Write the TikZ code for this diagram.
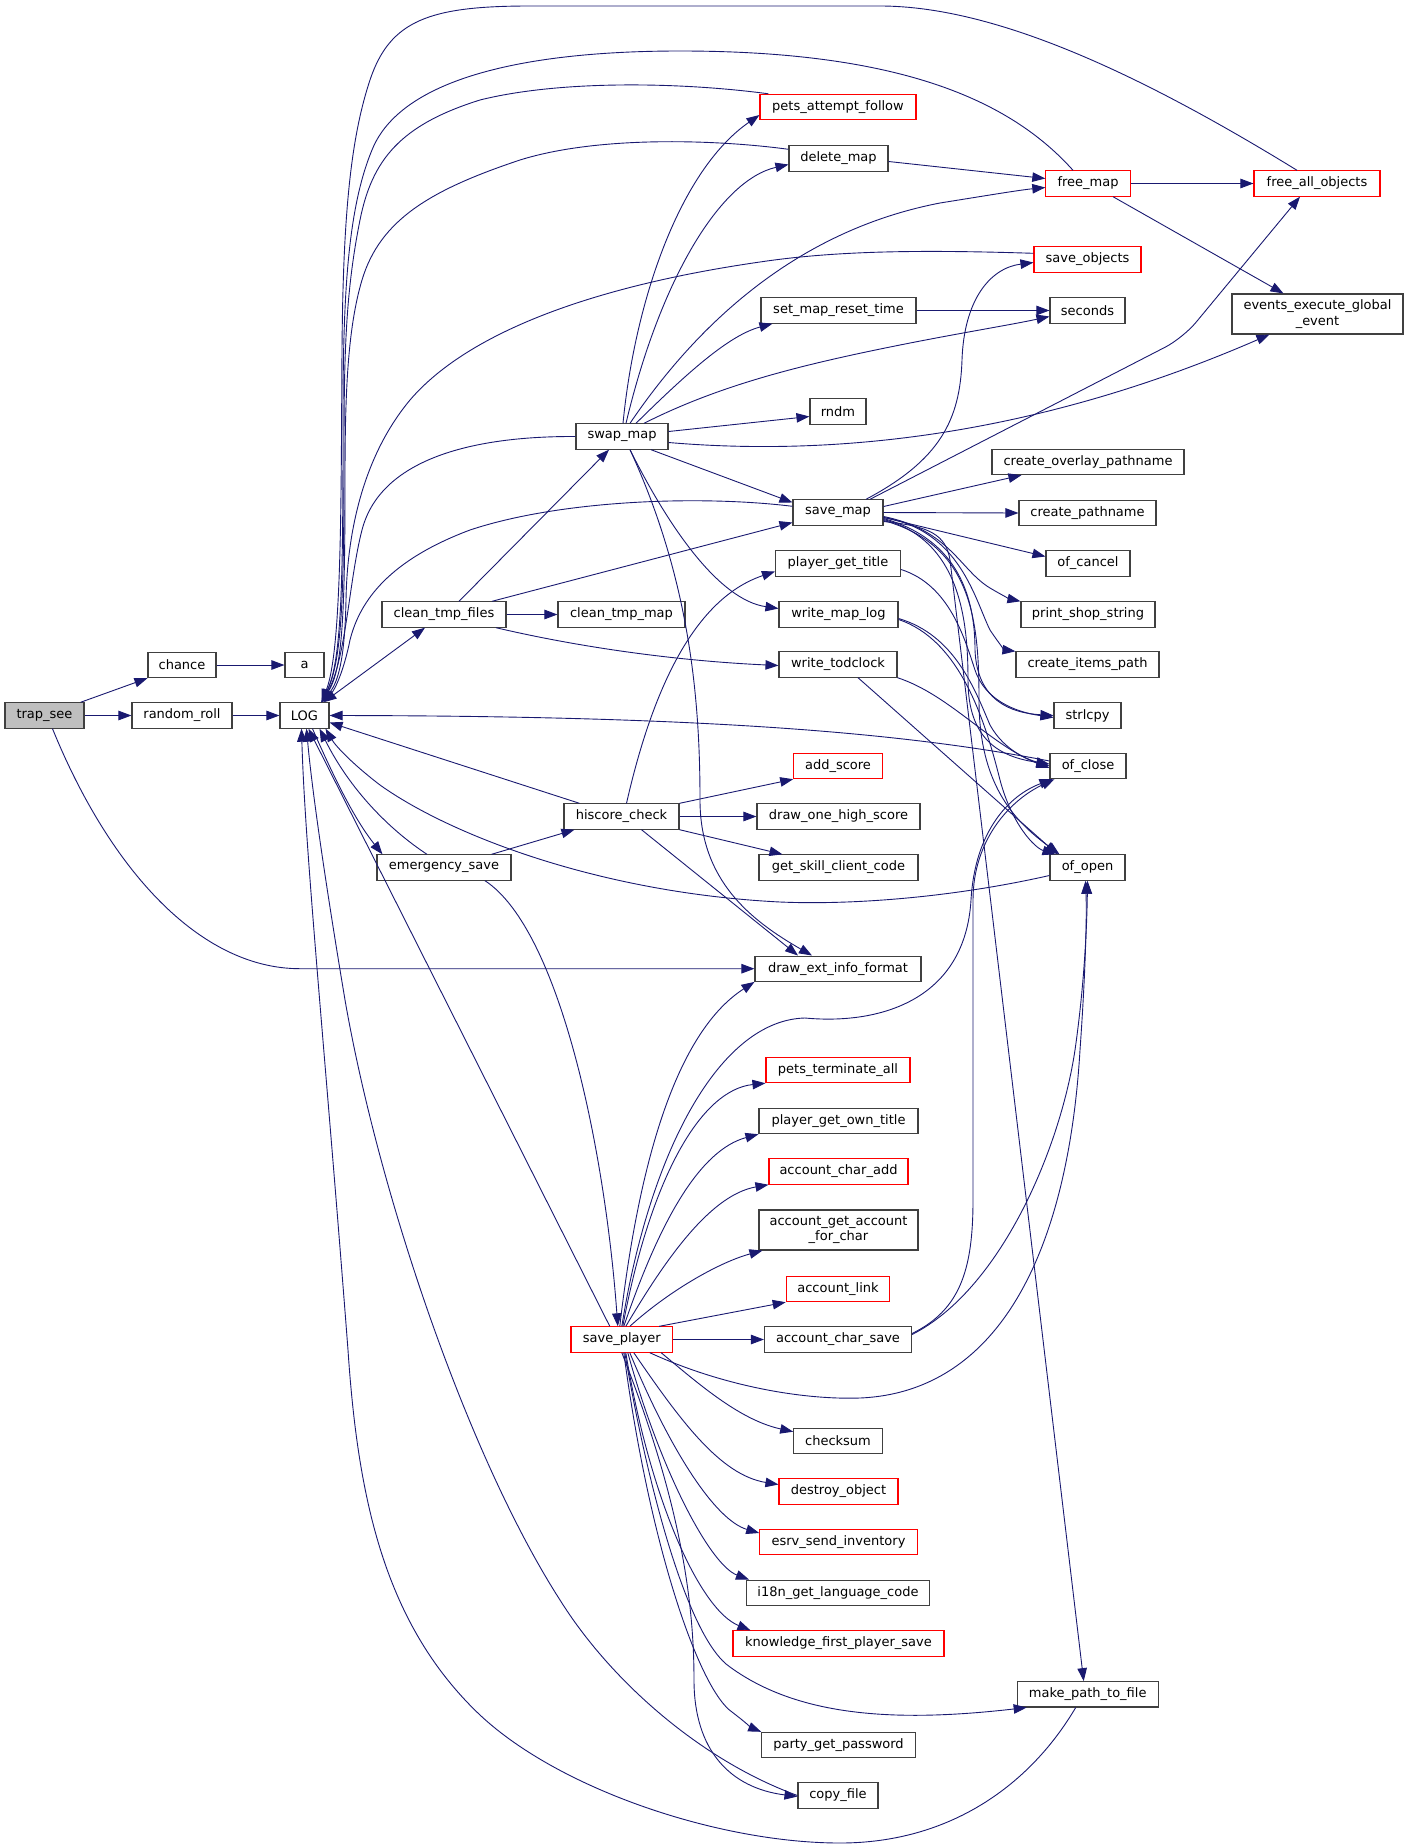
\documentclass[tikz,border=0pt]{standalone}
\usepackage{fontspec}
\setmainfont{DejaVu Sans}
\usetikzlibrary{arrows.meta}
\definecolor{edgec}{RGB}{25,25,112}
\definecolor{boxc}{RGB}{64,64,64}
\definecolor{redc}{RGB}{255,0,0}
\definecolor{grayfill}{RGB}{191,191,191}
\begin{document}
\begin{tikzpicture}[x=1pt,y=-1pt,
  fn/.style={draw=boxc, line width=1.1pt, fill=white, inner sep=0pt, minimum height=25.3pt, align=center, font=\fontsize{13}{15.5}\selectfont, text=black},
  fr/.style={fn, draw=redc},
  cg/.style={draw=edgec, line width=0.9pt, -{Triangle[length=13pt,width=9.5pt]}},
  cgb/.style={draw=edgec, line width=0.9pt, {Triangle[length=13pt,width=9.5pt]}-{Triangle[length=13pt,width=9.5pt]}},
  cgn/.style={draw=edgec, line width=0.9pt}
]
\useasboundingbox (0,0) rectangle (1408,1847);
% nodes
\node[fn, minimum width=79pt, fill=grayfill] (trap) at (44.5,715.5) {trap\_see};
\node[fn, minimum width=68pt] (chance) at (182,665) {chance};
\node[fn, minimum width=39pt] (a) at (304.5,665) {a};
\node[fn, minimum width=100pt] (random) at (182,715.5) {random\_roll};
\node[fn, minimum width=49pt] (LOG) at (304.5,715.5) {LOG};
\node[fn, minimum width=124pt] (ctf) at (444,614.5) {clean\_tmp\_files};
\node[fn, minimum width=134pt] (esave) at (444,867.5) {emergency\_save};
\node[fn, minimum width=92pt] (swap) at (622,436.5) {swap\_map};
\node[fn, minimum width=127pt] (ctm) at (621.5,614.5) {clean\_tmp\_map};
\node[fn, minimum width=115pt] (hsc) at (621.5,816.5) {hiscore\_check};
\node[fr, minimum width=101.6pt] (splayer) at (621.8,1339.5) {save\_player};
\node[fr, minimum width=156pt] (paf) at (838,107) {pets\_attempt\_follow};
\node[fn, minimum width=99pt] (dmap) at (838.5,158.5) {delete\_map};
\node[fn, minimum width=155pt] (smrt) at (838.5,310.5) {set\_map\_reset\_time};
\node[fn, minimum width=56pt] (rndm) at (838,411.5) {rndm};
\node[fn, minimum width=90pt] (smap) at (838,512.5) {save\_map};
\node[fn, minimum width=125pt] (pgt) at (838,563.5) {player\_get\_title};
\node[fn, minimum width=119pt] (wml) at (838.5,614.5) {write\_map\_log};
\node[fn, minimum width=118pt] (wtc) at (838,664.5) {write\_todclock};
\node[fr, minimum width=88.5pt] (adds) at (838,766) {add\_score};
\node[fn, minimum width=163pt] (dohs) at (838.5,816.5) {draw\_one\_high\_score};
\node[fn, minimum width=159pt] (gscc) at (838.5,867.5) {get\_skill\_client\_code};
\node[fn, minimum width=166pt] (deif) at (838,968.7) {draw\_ext\_info\_format};
\node[fr, minimum width=144pt] (pta) at (838,1070) {pets\_terminate\_all};
\node[fn, minimum width=159pt] (pgot) at (838.5,1121) {player\_get\_own\_title};
\node[fr, minimum width=139pt] (aca) at (838.5,1171.5) {account\_char\_add};
\node[fn, minimum width=159pt, minimum height=40pt] (agafc) at (838.5,1230) {account\_get\_account\\\_for\_char};
\node[fr, minimum width=103.5pt] (alink) at (838,1289) {account\_link};
\node[fn, minimum width=147pt] (acs) at (838,1339.5) {account\_char\_save};
\node[fn, minimum width=88.5pt] (chk) at (838,1440.7) {checksum};
\node[fr, minimum width=119pt] (dobj) at (838.5,1491.5) {destroy\_object};
\node[fr, minimum width=157.5pt] (esi) at (838.5,1542) {esrv\_send\_inventory};
\node[fn, minimum width=183pt] (i18n) at (838,1592.7) {i18n\_get\_language\_code};
\node[fr, minimum width=211pt] (kfps) at (838.5,1643.5) {knowledge\_first\_player\_save};
\node[fn, minimum width=153.5pt] (pgp) at (838.5,1745) {party\_get\_password};
\node[fn, minimum width=80pt] (cfile) at (838,1795.5) {copy\_file};
\node[fr, minimum width=84.3pt] (fmap) at (1088,183.5) {free\_map};
\node[fr, minimum width=107pt] (sobj) at (1087.5,259.5) {save\_objects};
\node[fn, minimum width=75pt] (secs) at (1087.5,310.5) {seconds};
\node[fn, minimum width=192pt] (cop) at (1088,462) {create\_overlay\_pathname};
\node[fn, minimum width=137pt] (cpn) at (1087.5,513) {create\_pathname};
\node[fn, minimum width=84pt] (ocan) at (1088,563.5) {of\_cancel};
\node[fn, minimum width=134pt] (pss) at (1088,614.5) {print\_shop\_string};
\node[fn, minimum width=143pt] (cip) at (1087.5,664.5) {create\_items\_path};
\node[fn, minimum width=67pt] (strl) at (1087.5,715.5) {strlcpy};
\node[fn, minimum width=76pt] (oclose) at (1088,766) {of\_close};
\node[fn, minimum width=75pt] (oopen) at (1087.5,867.5) {of\_open};
\node[fn, minimum width=141pt] (mptf) at (1087.7,1694.3) {make\_path\_to\_file};
\node[fr, minimum width=126pt] (fao) at (1317,183.5) {free\_all\_objects};
\node[fn, minimum width=171pt, minimum height=40pt] (eeg) at (1317.5,314) {events\_execute\_global\\\_event};

% trap_see
\draw[cg] ([xshift=-4pt]trap.north east) -- (chance.south west);
\draw[cg] (trap.east) -- (random.west);
\draw[cg] ([xshift=8pt]trap.south) .. controls (110,870) and (200,968.7) .. (300,968.7) -- (deif.west);
\draw[cg] (chance.east) -- (a.west);
\draw[cg] (random.east) -- (LOG.west);
% LOG relations
\draw[cgb] ([xshift=-6pt]LOG.north east) -- ([xshift=-19pt]ctf.south);
\draw[cg] ([xshift=8pt]LOG.south) .. controls (335,780) and (355,820) .. ([xshift=6pt]esave.north west);
\draw[cg] ([xshift=-17pt]esave.north) .. controls (390,830) and (350,790) .. ([xshift=-10pt]LOG.south east);
% top bundle into LOG
\draw[cg] ([xshift=-20pt]fao.north) .. controls (1150,80) and (1000,6) .. (880,6) -- (530,6) .. controls (430,6) and (390,20) .. (370,80) .. controls (350,140) and (343,220) .. (342,350) .. controls (341,500) and (342,650) .. ([xshift=-8pt]LOG.north east);
\draw[cg] ([xshift=-15pt]fmap.north) .. controls (1010,100) and (900,51) .. (680,51) .. controls (520,51) and (400,80) .. (372,150) .. controls (347,210) and (343,300) .. (343,420) .. controls (343,580) and (342,660) .. ([xshift=-8pt]LOG.north east);
\draw[cg] ([xshift=9pt]paf.north west) .. controls (680,82) and (560,80) .. (480,100) .. controls (400,125) and (372,160) .. (360,220) .. controls (346,290) and (344,350) .. (344,450) .. controls (344,600) and (342,660) .. ([xshift=-8pt]LOG.north east);
\draw[cg] ([yshift=-4pt]dmap.north west) .. controls (720,140) and (600,135) .. (520,160) .. controls (430,190) and (380,220) .. (362,280) .. controls (347,330) and (345,400) .. (345,480) .. controls (345,620) and (342,670) .. ([xshift=-8pt]LOG.north east);
\draw[cg] ([yshift=-7pt]sobj.north west) .. controls (930,250) and (840,250) .. (760,262) .. controls (600,285) and (470,330) .. (410,400) .. controls (360,460) and (347,540) .. (346,600) .. controls (345,650) and (340,680) .. ([xshift=-8pt]LOG.north east);
\draw[cg] (swap.west) .. controls (470,436) and (380,460) .. (362,530) .. controls (349,580) and (346,660) .. ([xshift=-8pt]LOG.north east);
\draw[cg] ([yshift=-7pt]smap.north west) .. controls (700,495) and (560,500) .. (470,530) .. controls (390,560) and (360,600) .. (350,640) .. controls (344,670) and (335,690) .. ([xshift=-8pt]LOG.north east);
% right side into LOG
\draw[cg] ([yshift=5pt]oclose.west) .. controls (900,732) and (700,716) .. (LOG.east);
\draw[cg] ([xshift=16pt]hsc.north west) -- ([yshift=-7pt]LOG.east);
\draw[cg] ([yshift=-8pt]oopen.west) .. controls (950,898) and (850,905) .. (780,902) .. controls (600,893) and (450,835) .. (380,785) .. controls (350,762) and (335,745) .. ([xshift=-4pt]LOG.south east);
\draw[cg] ([xshift=-12pt]splayer.north) -- ([xshift=4pt]LOG.south);
\draw[cg] (cfile.west) .. controls (700,1760) and (610,1680) .. (560,1600) .. controls (470,1460) and (380,1200) .. (345,1000) .. controls (325,880) and (312,790) .. ([xshift=2pt]LOG.south);
\draw[cg] ([xshift=-12pt]mptf.south) .. controls (1030,1785) and (950,1843) .. (840,1843) .. controls (720,1843) and (560,1790) .. (480,1715) .. controls (385,1625) and (358,1500) .. (348,1350) .. controls (325,1050) and (305,850) .. ([xshift=-3pt]LOG.south);
% swap_map
\draw[cg] ([xshift=1pt]swap.north) .. controls (635,300) and (680,170) .. ([yshift=-8pt]paf.west);
\draw[cg] ([xshift=4pt]swap.north) .. controls (660,280) and (720,180) .. ([yshift=-6pt]dmap.west);
\draw[cg] ([xshift=8pt]swap.north) .. controls (700,320) and (800,230) .. (940,203) .. controls (990,195) and (1020,190) .. ([yshift=-4pt]fmap.west);
\draw[cg] ([xshift=14pt]swap.north) .. controls (690,370) and (730,335) .. ([xshift=12pt]smrt.south west);
\draw[cg] ([xshift=22pt]swap.north) .. controls (720,385) and (800,365) .. (900,345) .. controls (960,333) and (1010,325) .. ([yshift=-6pt]secs.west);
\draw[cg] ([yshift=5pt]swap.east) -- ([yshift=-5pt]rndm.west);
\draw[cg] ([yshift=-6pt]swap.east) .. controls (850,458) and (1050,430) .. ([xshift=38pt]eeg.south west);
\draw[cg] ([xshift=29pt]swap.south) -- ([yshift=10pt]smap.west);
\draw[cg] ([xshift=8pt]swap.south) .. controls (670,530) and (720,600) .. ([yshift=6pt]wml.west);
\draw[cg] ([xshift=8pt]swap.south) .. controls (690,580) and (700,700) .. (700,800) .. controls (700,880) and (750,920) .. ([xshift=-26pt]deif.north);
% delete/free map
\draw[cg] ([yshift=-3pt]dmap.east) -- ([yshift=5pt]fmap.west);
\draw[cg] (fmap.east) -- (fao.west);
\draw[cg] ([xshift=25pt]fmap.south) -- ([xshift=-34pt]eeg.north);
\draw[cg] (smrt.east) -- (secs.west);
% save_map
\draw[cg] ([xshift=28pt]smap.north) .. controls (940,460) and (960,420) .. (962,360) .. controls (964,300) and (990,268) .. ([yshift=-3pt]sobj.west);
\draw[cg, rounded corners=20pt] ([xshift=32pt]smap.north) -- (1183,338) -- ([xshift=-17pt]fao.south);
\draw[cg] ([yshift=6pt]smap.east) -- ([xshift=30pt]cop.south west);
\draw[cg] (smap.east) -- (cpn.west);
\draw[cg] ([yshift=-5pt]smap.east) -- ([yshift=7pt]ocan.west);
\draw[cg] ([yshift=-4pt]smap.east) .. controls (950,530) and (960,570) .. (990,588) .. controls (1000,594) and (1010,599) .. (pss.north west);
\draw[cg] ([yshift=-5pt]smap.east) .. controls (960,530) and (975,600) .. (990,630) .. controls (1000,645) and (1005,650) .. (cip.north west);
\draw[cg] ([yshift=-6pt]smap.east) .. controls (960,540) and (975,600) .. (975,650) .. controls (977,700) and (1010,713) .. (strl.west);
\draw[cg] ([yshift=-7pt]smap.east) .. controls (960,540) and (968,620) .. (968,680) .. controls (968,740) and (1000,757) .. ([yshift=2pt]oclose.west);
\draw[cg] ([yshift=-8pt]smap.east) .. controls (972,545) and (979,620) .. (979,700) .. controls (979,790) and (1020,825) .. ([xshift=10pt]oopen.north west);
\draw[cg] ([yshift=-9pt]smap.east) .. controls (930,526) and (946,535) .. (950,560) -- ([xshift=-4pt]mptf.north);
% title / logs
\draw[cg] ([yshift=-6pt]pgt.east) .. controls (950,585) and (965,640) .. (975,670) .. controls (985,700) and (1015,712) .. ([yshift=-2pt]strl.west);
\draw[cg] ([yshift=-4pt]wml.east) .. controls (955,635) and (975,690) .. (990,725) .. controls (1005,752) and (1030,760) .. (oclose.west);
\draw[cg] ([yshift=-5pt]wml.east) .. controls (960,640) and (985,720) .. (1000,780) .. controls (1012,825) and (1035,848) .. ([xshift=6pt]oopen.north west);
\draw[cg] (wtc.south east) .. controls (950,695) and (990,745) .. ([yshift=-2pt]oclose.west);
\draw[cg] ([xshift=20pt]wtc.south) -- ([xshift=8pt]oopen.north west);
% account_char_save / save_player to of_close/of_open
\draw[cg] ([yshift=6pt]acs.east) .. controls (960,1310) and (973,1270) .. (973,1200) -- (973,900) .. controls (973,840) and (1010,800) .. ([xshift=5pt]oclose.south west);
\draw[cg] ([yshift=5pt]acs.east) .. controls (1000,1290) and (1060,1150) .. (1075,1050) .. controls (1085,980) and (1087,920) .. (oopen.south);
\draw[cg] ([xshift=28pt]splayer.south) .. controls (720,1385) and (800,1400) .. (860,1398) .. controls (1000,1392) and (1068,1250) .. (1080,1050) .. controls (1085,980) and (1087,920) .. ([xshift=-2pt]oopen.south);
\draw[cg] (splayer.north) .. controls (650,1150) and (720,1020) .. (805,1018) .. controls (880,1025) and (965,1000) .. (971,900) .. controls (975,830) and (1010,795) .. ([xshift=3pt]oclose.south west);
% save_player
\draw[cg] ([xshift=-2pt]splayer.north) .. controls (640,1150) and (680,1030) .. (deif.south west);
\draw[cg] ([xshift=1pt]splayer.north) .. controls (650,1180) and (700,1090) .. (pta.south west);
\draw[cg] ([xshift=2pt]splayer.north) .. controls (660,1220) and (700,1150) .. (pgot.south west);
\draw[cg] ([xshift=4pt]splayer.north) .. controls (665,1260) and (710,1195) .. (aca.south west);
\draw[cg] ([xshift=8pt]splayer.north) .. controls (670,1290) and (720,1262) .. ([xshift=4pt]agafc.south west);
\draw[cg] ([xshift=-14pt]splayer.north east) -- (alink.south west);
\draw[cg] (splayer.east) -- (acs.west);
\draw[cg] ([xshift=-12pt]splayer.south east) .. controls (700,1385) and (740,1420) .. ([yshift=9pt]chk.west);
\draw[cg] ([xshift=12pt]splayer.south) .. controls (680,1420) and (720,1475) .. ([yshift=7pt]dobj.west);
\draw[cg] ([xshift=8pt]splayer.south) .. controls (670,1450) and (715,1520) .. ([yshift=9pt]esi.west);
\draw[cg] ([xshift=6pt]splayer.south) .. controls (660,1470) and (710,1565) .. ([xshift=3pt]i18n.north west);
\draw[cg] ([xshift=4pt]splayer.south) .. controls (650,1500) and (700,1610) .. ([xshift=18pt]kfps.north west);
\draw[cg] ([xshift=3pt]splayer.south) .. controls (650,1500) and (690,1640) .. (730,1667) .. controls (800,1718) and (900,1722) .. ([xshift=10pt]mptf.south west);
\draw[cg] ([xshift=2pt]splayer.south) .. controls (650,1550) and (700,1690) .. (732,1712) .. controls (745,1722) and (752,1728) .. (pgp.north west);
\draw[cg] (splayer.south) .. controls (680,1500) and (694,1600) .. (694,1680) .. controls (694,1750) and (730,1788) .. ([yshift=-1pt]cfile.west);
% emergency_save / hiscore_check
\draw[cg] ([xshift=41pt]esave.south) .. controls (560,930) and (605,1150) .. ([xshift=-4pt]splayer.north);
\draw[cg] ([xshift=-20pt]esave.north east) -- ([xshift=11pt]hsc.south west);
\draw[cg] ([xshift=5pt]hsc.north) .. controls (650,700) and (690,600) .. ([yshift=-8pt]pgt.west);
\draw[cg] (hsc.north east) -- (adds.south west);
\draw[cg] (hsc.east) -- (dohs.west);
\draw[cg] (hsc.south east) -- ([xshift=24pt]gscc.north west);
\draw[cg] ([xshift=20pt]hsc.south) -- ([xshift=-40pt]deif.north);
% clean_tmp_files
\draw[cg] ([xshift=15pt]ctf.north) -- ([xshift=-13pt]swap.south);
\draw[cg] ([xshift=48pt]ctf.north) -- ([yshift=-10pt]smap.west);
\draw[cg] (ctf.east) -- (ctm.west);
\draw[cg] ([xshift=52pt]ctf.south) .. controls (600,652) and (700,662) .. ([yshift=-1pt]wtc.west);
\end{tikzpicture}
\end{document}
